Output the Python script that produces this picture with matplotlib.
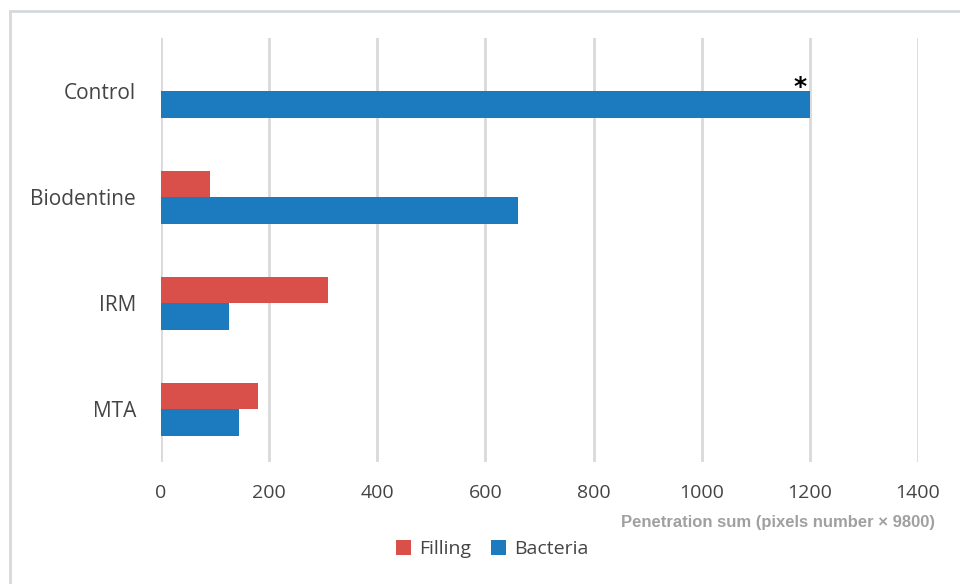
import numpy as np
import matplotlib.pyplot as plt
from matplotlib.patches import Rectangle

categories = ["Control", "Biodentine", "IRM", "MTA"]
filling = [0, 90, 308, 180]
bacteria = [1200, 660, 125, 145]
xticks = [0, 200, 400, 600, 800, 1000, 1200, 1400]

red = "#d9504b"
blue = "#1c7bbf"
grid = "#d9d9d9"
text = "#444444"

plt.rcParams['font.family'] = ['Open Sans', 'DejaVu Sans']

fig = plt.figure(figsize=(9.6, 5.84), dpi=100)
ax = fig.add_axes([161 / 960, 1 - 462 / 584, 757 / 960, 424 / 584])

y = np.arange(len(categories))
h = 0.25
ax.barh(y - h / 2, filling, height=h, color=red, label="Filling", zorder=3)
ax.barh(y + h / 2, bacteria, height=h, color=blue, label="Bacteria", zorder=3)

ax.set_xlim(0, 1400)
ax.set_ylim(3.5, -0.5)
ax.set_xticks(xticks)
ax.set_xticklabels([str(v) for v in xticks], fontsize=14, color=text)
ax.set_yticks(y)
ax.set_yticklabels(categories, fontsize=15, color=text)
ax.tick_params(axis='x', length=0, pad=16)
ax.tick_params(axis='y', length=0, pad=18)
ax.xaxis.grid(True, color=grid, linewidth=2, zorder=0)
for s in ax.spines.values():
    s.set_visible(False)

# significance mark on the control bar
ax.annotate("*", xy=(bacteria[0] - 18, -h), xytext=(0, -21),
            textcoords='offset points', fontsize=18, fontweight='bold',
            ha='center', va='baseline', color='black', zorder=4,
            family='DejaVu Sans')

fig.text(935 / 960, 1 - 523 / 584, "Penetration sum (pixels number \u00d7 9800)",
         fontsize=12, fontweight='bold', color="#a0a0a0", ha='right', va='center',
         family=['Liberation Sans', 'DejaVu Sans'])

fig.legend(loc='center', bbox_to_anchor=(492 / 960, 1 - 549 / 584), ncol=2,
           frameon=False, fontsize=14, handlelength=0.8, handleheight=0.8,
           columnspacing=1.0, handletextpad=0.4, labelcolor=text)

fig.patches.append(Rectangle((10 / 960, -0.1), 1.2, 1 - 11 / 584 + 0.1,
                             transform=fig.transFigure, fill=False,
                             edgecolor="#d5d9dc", linewidth=2))

fig.savefig("out.png", dpi=100)
